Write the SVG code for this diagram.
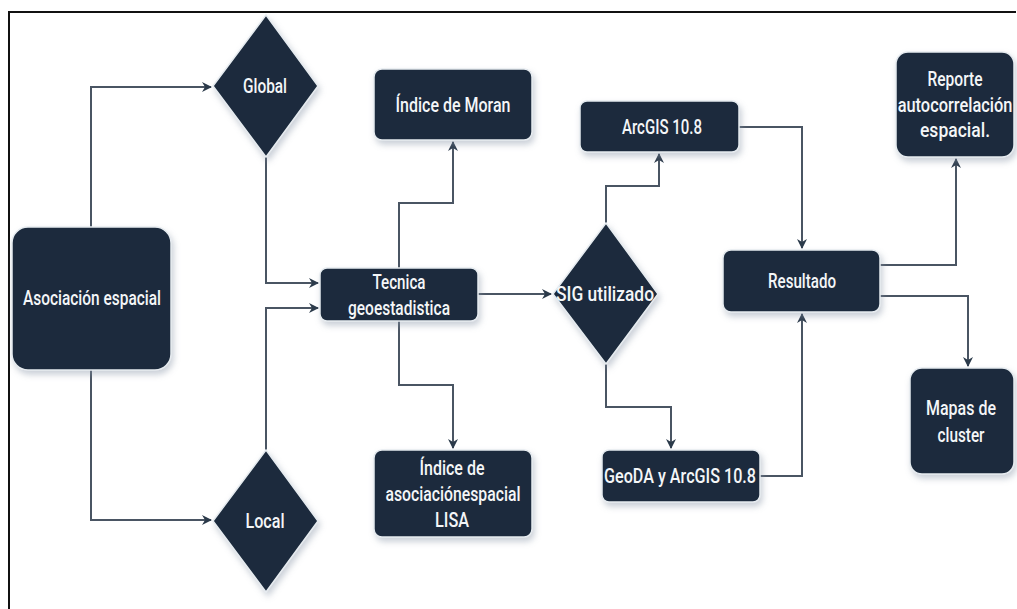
<svg xmlns="http://www.w3.org/2000/svg" width="1017" height="609" viewBox="0 0 1017 609">
<style>
.box{fill:#1b2b3c;stroke:#e6ebf0;stroke-width:1.5;filter:url(#sh)}
.t{fill:#f4f6f8;font-family:Roboto,"Liberation Sans",sans-serif;font-size:20px;font-weight:500;text-anchor:middle;dominant-baseline:central}
.c{fill:none;stroke:#4a5563;stroke-width:2;marker-end:url(#ah)}
</style>
<defs>
<marker id="ah" viewBox="0 0 10 10" refX="9" refY="5" markerWidth="5" markerHeight="5" orient="auto" markerUnits="strokeWidth">
<path d="M0,0 L10,5 L0,10 L3,5 Z" fill="#2b3a4a"/>
</marker>
<filter id="sh" x="-20%" y="-20%" width="140%" height="150%">
<feDropShadow dx="2" dy="4" stdDeviation="3" flood-color="#8a96a8" flood-opacity="0.45"/>
</filter>
</defs>
<rect width="1017" height="609" fill="#ffffff"/>
<path d="M9,609 V12 H1016" fill="none" stroke="#111" stroke-width="2"/>

<g id="connectors">
<path class="c" d="M91,227 V87 H211"/>
<path class="c" d="M91,370 V520 H211"/>
<path class="c" d="M266,157 V283 H318"/>
<path class="c" d="M266,450 V308 H318"/>
<path class="c" d="M399,268 V203 H453 V142"/>
<path class="c" d="M399,321 V385 H453 V448"/>
<path class="c" d="M478,294 H551"/>
<path class="c" d="M606,223 V186 H659 V154"/>
<path class="c" d="M606,363 V407 H671 V448"/>
<path class="c" d="M739,127 H802 V248"/>
<path class="c" d="M760,476 H802 V314"/>
<path class="c" d="M880,265 H956 V159"/>
<path class="c" d="M880,296 H968 V366"/>
</g>

<g id="asociacion">
<rect class="box" x="12" y="227" width="159" height="143" rx="16"/>
<text class="t" x="92" y="298" textLength="138" lengthAdjust="spacingAndGlyphs">Asociación espacial</text>
</g>
<g id="global">
<polygon class="box" points="266,15 318,86 266,157 213,86"/>
<text class="t" x="265" y="86" textLength="44" lengthAdjust="spacingAndGlyphs">Global</text>
</g>
<g id="local">
<polygon class="box" points="266,450 318,521 266,592 213,521"/>
<text class="t" x="265" y="521" textLength="39" lengthAdjust="spacingAndGlyphs">Local</text>
</g>
<g id="tecnica">
<rect class="box" x="320" y="268" width="158" height="53" rx="7"/>
<text class="t" x="399" y="282" textLength="53" lengthAdjust="spacingAndGlyphs">Tecnica</text>
<text class="t" x="399" y="308" textLength="102" lengthAdjust="spacingAndGlyphs">geoestadistica</text>
</g>
<g id="moran">
<rect class="box" x="374" y="69" width="158" height="71" rx="8"/>
<text class="t" x="453" y="105" textLength="115" lengthAdjust="spacingAndGlyphs">Índice de Moran</text>
</g>
<g id="lisa">
<rect class="box" x="374" y="450" width="158" height="87" rx="8"/>
<text class="t" x="452" y="468" textLength="65" lengthAdjust="spacingAndGlyphs">Índice de</text>
<text class="t" x="453" y="494" textLength="135" lengthAdjust="spacingAndGlyphs">asociaciónespacial</text>
<text class="t" x="452" y="520" textLength="34" lengthAdjust="spacingAndGlyphs">LISA</text>
</g>
<g id="sig">
<polygon class="box" points="606,223 658,294 606,364 553,294"/>
<text class="t" x="605" y="294" textLength="98" lengthAdjust="spacingAndGlyphs">SIG utilizado</text>
</g>
<g id="arcgis">
<rect class="box" x="580" y="101" width="159" height="51" rx="7"/>
<text class="t" x="662" y="127" textLength="80" lengthAdjust="spacingAndGlyphs">ArcGIS 10.8</text>
</g>
<g id="geoda">
<rect class="box" x="602" y="450" width="158" height="52" rx="7"/>
<text class="t" x="680" y="476" textLength="152" lengthAdjust="spacingAndGlyphs">GeoDA y ArcGIS 10.8</text>
</g>
<g id="resultado">
<rect class="box" x="723" y="250" width="157" height="62" rx="8"/>
<text class="t" x="802" y="281" textLength="68" lengthAdjust="spacingAndGlyphs">Resultado</text>
</g>
<g id="reporte">
<rect class="box" x="896" y="52" width="118" height="105" rx="12"/>
<text class="t" x="955" y="79" textLength="55" lengthAdjust="spacingAndGlyphs">Reporte</text>
<text class="t" x="0" y="0" transform="translate(955,105) scale(0.82,1)">autocorrelación</text>
<text class="t" x="955" y="130" textLength="70" lengthAdjust="spacingAndGlyphs">espacial.</text>
</g>
<g id="mapas">
<rect class="box" x="910" y="368" width="104" height="106" rx="12"/>
<text class="t" x="961" y="408" textLength="70" lengthAdjust="spacingAndGlyphs">Mapas de</text>
<text class="t" x="961" y="435" textLength="47" lengthAdjust="spacingAndGlyphs">cluster</text>
</g>
</svg>
